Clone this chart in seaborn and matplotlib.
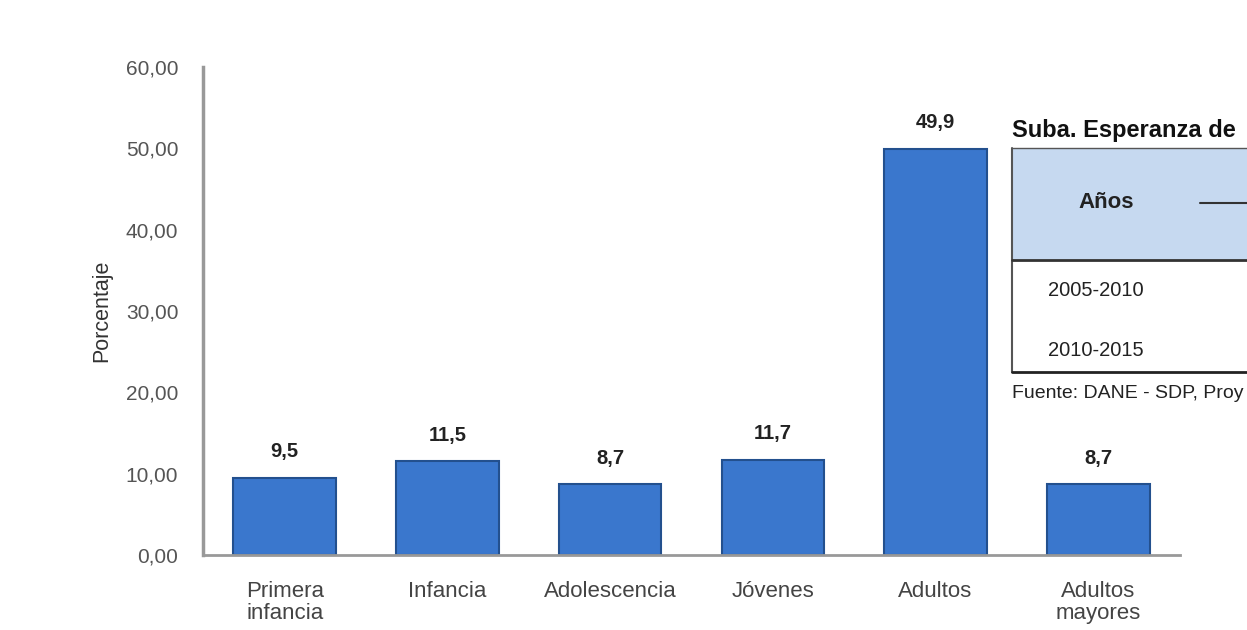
import matplotlib
matplotlib.use("Agg")
import matplotlib.pyplot as plt
import seaborn as sns
import pandas as pd
from matplotlib.patches import Rectangle
from matplotlib.lines import Line2D
from matplotlib.ticker import FuncFormatter

grupos = ['Primera\ninfancia', 'Infancia', 'Adolescencia', 'Jóvenes', 'Adultos', 'Adultos\nmayores']
porcentajes = [9.5, 11.5, 8.7, 11.7, 49.9, 8.7]
etiquetas = ['9,5', '11,5', '8,7', '11,7', '49,9', '8,7']
filas_tabla = ['2005-2010', '2010-2015']

d = pd.DataFrame({'Grupo': grupos, 'Porcentaje': porcentajes})

sns.set_style('white')
plt.rcParams['font.family'] = ['Liberation Sans', 'DejaVu Sans']

fig = plt.figure(figsize=(12.47, 6.3), dpi=100)
ax = fig.add_axes([0.163, 0.119, 0.783, 0.775])

s = sns.barplot(data=d, x='Grupo', y='Porcentaje', color='#3a77cd', saturation=1,
                width=0.63, edgecolor='#23508e', linewidth=1.5, ax=ax)
s.set_xlim(-0.5, 5.5)
s.set_ylim(0, 60)
s.set_yticks(range(0, 61, 10))
s.yaxis.set_major_formatter(FuncFormatter(lambda v, p: f'{v:.2f}'.replace('.', ',')))
s.set_xlabel('')
s.set_ylabel('Porcentaje', fontsize=15.5, color='#333333', labelpad=10)
s.tick_params(axis='y', labelsize=15, colors='#555555', length=0, pad=18)
s.tick_params(axis='x', labelsize=16, colors='#444444', length=0, pad=19)
for lab in s.get_xticklabels():
    lab.set_linespacing(1.02)

for sp in ['top', 'right']:
    s.spines[sp].set_visible(False)
s.spines['left'].set_color('#999999')
s.spines['left'].set_linewidth(2.5)
s.spines['bottom'].set_color('#999999')
s.spines['bottom'].set_linewidth(2)

for bar, t in zip(s.patches, etiquetas):
    s.annotate(t, (bar.get_x() + bar.get_width() / 2, bar.get_height()),
               xytext=(0, 12), textcoords='offset points', ha='center', va='bottom',
               fontsize=14.5, fontweight='bold', color='#222222')

# tabla superpuesta, recortada por el borde derecho como en la imagen
W, H = 1247, 630
def fx(x):
    return x / W
def fy(y):
    return 1 - y / H

fig.patches.append(Rectangle((fx(1012), fy(260)), fx(260), (260 - 148) / H,
                             transform=fig.transFigure, facecolor='#c6d9f0',
                             edgecolor='none', zorder=3))
fig.patches.append(Rectangle((fx(1012), fy(372)), fx(260), (372 - 260) / H,
                             transform=fig.transFigure, facecolor='white',
                             edgecolor='none', zorder=3))
fig.lines.append(Line2D([fx(1012), fx(1012)], [fy(148), fy(372)], transform=fig.transFigure,
                        color='#555555', lw=1.5, zorder=4))
fig.lines.append(Line2D([fx(1012), 1], [fy(148), fy(148)], transform=fig.transFigure,
                        color='#555555', lw=1, zorder=4))
fig.lines.append(Line2D([fx(1012), 1], [fy(260), fy(260)], transform=fig.transFigure,
                        color='#333333', lw=2, zorder=4))
fig.lines.append(Line2D([fx(1012), 1], [fy(372), fy(372)], transform=fig.transFigure,
                        color='#222222', lw=2, zorder=4))
fig.lines.append(Line2D([fx(1200), 1], [fy(203), fy(203)], transform=fig.transFigure,
                        color='#333333', lw=1.5, zorder=4))

fig.text(fx(1012), fy(131), 'Suba. Esperanza de', fontsize=17, fontweight='bold',
         color='#111111', va='center', ha='left', zorder=5)
fig.text(fx(1106), fy(202), 'Años', fontsize=16, fontweight='bold', color='#222222',
         va='center', ha='center', zorder=5)
for i, f in enumerate(filas_tabla):
    fig.text(fx(1048), fy(291 + 60 * i), f, fontsize=14.5, color='#222222',
             va='center', ha='left', zorder=5)
fig.text(fx(1012), fy(394), 'Fuente: DANE - SDP, Proy', fontsize=14,
         color='#222222', va='center', ha='left', zorder=5)

fig.savefig('out.png', dpi=100)
